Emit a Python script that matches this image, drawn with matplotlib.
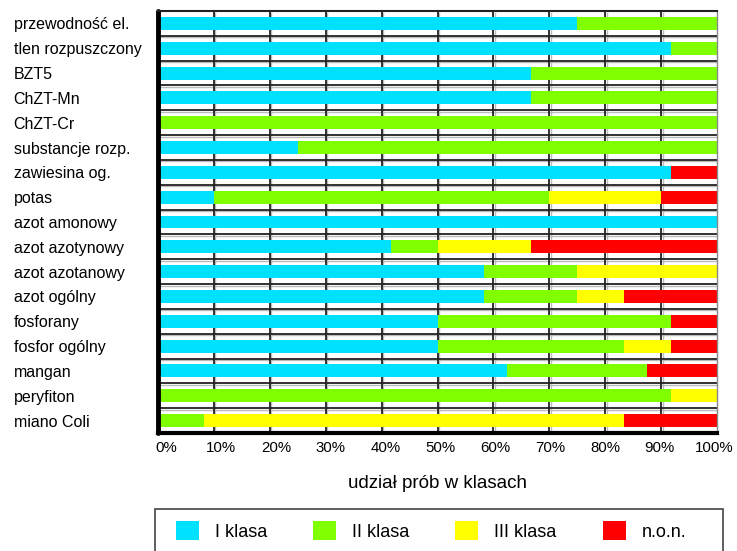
import matplotlib
matplotlib.use('Agg')
import matplotlib.pyplot as plt
from matplotlib.patches import Rectangle
from matplotlib.transforms import ScaledTranslation
import numpy as np

plt.rcParams['font.family'] = ['Liberation Sans', 'DejaVu Sans']

# wskaźniki jakości wody i udział prób (%) w poszczególnych klasach
categories = ['przewodność el.', 'tlen rozpuszczony', 'BZT5', 'ChZT-Mn', 'ChZT-Cr',
              'substancje rozp.', 'zawiesina og.', 'potas', 'azot amonowy',
              'azot azotynowy', 'azot azotanowy', 'azot ogólny', 'fosforany',
              'fosfor ogólny', 'mangan', 'peryfiton', 'miano Coli']
klasa_1 = [75, 91.7, 66.7, 66.7, 0, 25, 91.7, 10, 100, 41.7, 58.3, 58.3, 50, 50, 62.5, 0, 0]
klasa_2 = [25, 8.3, 33.3, 33.3, 100, 75, 0, 60, 0, 8.3, 16.7, 16.7, 41.7, 33.3, 25, 91.7, 8.3]
klasa_3 = [0, 0, 0, 0, 0, 0, 0, 20, 0, 16.7, 25, 8.3, 0, 8.4, 0, 8.3, 75]
non = [0, 0, 0, 0, 0, 0, 8.3, 10, 0, 33.3, 0, 16.7, 8.3, 8.3, 12.5, 0, 16.7]

series = [klasa_1, klasa_2, klasa_3, non]
labels = ['I klasa', 'II klasa', 'III klasa', 'n.o.n.']
colors = ['#00E0FF', '#80FF00', '#FFFF00', '#FF0000']
x_ticks = list(range(0, 101, 10))

fig = plt.figure(figsize=(7.37, 5.51), dpi=100)
ax = fig.add_axes([158 / 737, 1 - 433 / 551, 559 / 737, 422 / 551])

y = np.arange(len(categories))
left = np.zeros(len(categories))
for vals, lab, col in zip(series, labels, colors):
    vals = np.array(vals, dtype=float)
    ax.barh(y, vals, left=left, height=0.52, color=col, label=lab, zorder=3)
    left += vals

# siatka: ciemna linia z jasnym cieniem
shadow = ax.transData + ScaledTranslation(1.5 / 100, -1.5 / 100, fig.dpi_scale_trans)
y_lo, y_hi = len(categories) - 0.5, -0.5
for xv in x_ticks[1:-1]:
    ax.plot([xv, xv], [y_lo, y_hi], color='#bbbbbb', lw=1.0, zorder=1, transform=shadow)
    ax.plot([xv, xv], [y_lo, y_hi], color='#222222', lw=1.3, zorder=2)
for yv in np.arange(0.5, len(categories) - 1, 1.0):
    ax.plot([0, 100], [yv, yv], color='#bbbbbb', lw=1.0, zorder=1, transform=shadow)
    ax.plot([0, 100], [yv, yv], color='#222222', lw=1.3, zorder=2)
ax.set_xlim(0, 100)
ax.set_ylim(y_lo, y_hi)

ax.set_xticks(x_ticks)
ax.set_xticklabels([f'{v}%' for v in x_ticks], fontsize=10.8)
ax.set_yticks(y)
ax.set_yticklabels(categories, fontsize=11.5, ha='left')
ax.tick_params(axis='y', length=0, pad=104)
ax.tick_params(axis='x', length=0, pad=6)
ax.set_xlabel('udział prób w klasach', fontsize=13.5, labelpad=14)

# opisy osi X rozłożone nieco węziej niż linie siatki
for i, t in enumerate(ax.get_xticklabels()):
    dx = 8.5 - 1.1 * i
    t.set_transform(t.get_transform() + ScaledTranslation(dx / 100, 0, fig.dpi_scale_trans))

ax.spines['left'].set_linewidth(3.5)
ax.spines['left'].set_color('black')
ax.spines['left'].set_capstyle('round')
ax.spines['bottom'].set_linewidth(3)
ax.spines['bottom'].set_color('black')
ax.spines['top'].set_linewidth(1.5)
ax.spines['top'].set_color('#222222')
ax.spines['right'].set_linewidth(1)
ax.spines['right'].set_color('#888888')
for s in ax.spines.values():
    s.set_zorder(4)

leg = fig.legend(loc='upper left', bbox_to_anchor=(176 / 737, 1 - 521 / 551),
                 ncol=4, borderaxespad=0, borderpad=0, fontsize=13,
                 handlelength=1.27, handleheight=1.27, handletextpad=0.886,
                 columnspacing=2.55, frameon=False)
fig.add_artist(Rectangle((155 / 737, 1 - 560 / 551), 568 / 737, 51 / 551,
                         transform=fig.transFigure, fill=False,
                         edgecolor='#444444', lw=1.2))

fig.savefig('out.png', dpi=100)
